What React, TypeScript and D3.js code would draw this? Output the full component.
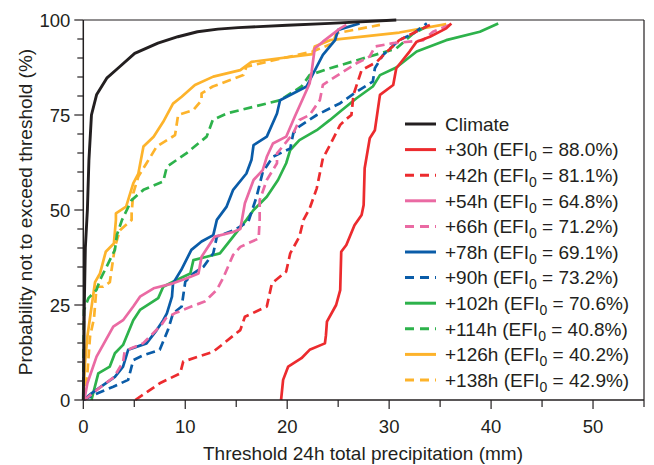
import React from "react";
import * as d3 from "d3";

type Pt = [number, number];

const xTicksMajor = [0, 10, 20, 30, 40, 50];
const xTicksMinor = [5, 15, 25, 35, 45, 55];
const yTicksMajor = [0, 25, 50, 75, 100];
const yTicksMinor = [5, 10, 15, 20, 30, 35, 40, 45, 55, 60, 65, 70, 80, 85, 90, 95];

const climate: Pt[] = [[0,0],[0.05,10],[0.1,25],[0.2,40],[0.4,50],[0.55,63],[0.8,75],[1.3,80.3],[2.3,84.7],[3.4,87.3],[5.04,91.2],[7.32,93.9],[9.28,95.6],[11.2,96.9],[13.2,97.6],[15.2,98],[20,98.6],[24.2,99.1],[30.7,100]];
const h30: Pt[] = [[19.4,0],[19.6,5.3],[20.1,8.8],[21.4,11],[22.2,13.2],[23.7,14.9],[23.8,17],[23.9,20.6],[24.8,25],[25.2,28.9],[25.3,39],[25.8,40.8],[26.6,46],[27.3,48.7],[27.5,51.3],[27.6,61],[28.1,68.9],[28.6,71],[29.1,80.3],[30.4,82.9],[30.7,87.3],[32,91.7],[32.7,94.3],[34,95.6],[35.6,97.8],[36.1,99.1]];
const h42: Pt[] = [[5.1,0],[7.5,4.4],[9.5,7],[9.8,10.1],[12.75,12.7],[15.4,18.4],[15.85,21.9],[18,24.6],[18.5,30.7],[19.9,33.8],[20.3,38.6],[21.2,43],[21.6,47.4],[22.2,50.4],[22.9,55.7],[23.5,63.6],[24.2,67.1],[25.2,72.4],[25.7,73.7],[26.3,75],[26.5,80.3],[27.3,86.8],[28.8,89],[29.3,90.4],[31,94.7],[33.3,97.8],[34,98.7]];
const h54: Pt[] = [[0.1,0],[0.4,4.4],[1.3,11.4],[2.94,19.3],[3.9,21],[4.9,24.6],[5.56,27.2],[6.9,29.4],[8.8,30.7],[10.1,32],[11.3,33.3],[11.6,37.7],[12.9,43],[14.7,44.2],[15.4,45],[15.85,51.8],[16.7,57.9],[17.6,60.5],[18,64],[18.6,67.5],[19.9,69.3],[20.75,74.6],[21.4,78.5],[22.2,83.3],[22.4,86.4],[22.7,92.5],[23.5,94.3],[25.2,97.8],[25.8,98.7]];
const h66: Pt[] = [[0.1,0],[1.5,3],[3,6],[3.9,10],[4.05,12.7],[4.7,13.6],[5.85,14.9],[7.65,19.7],[8.1,21.5],[8.96,22.8],[10.6,24.6],[11.9,25.9],[13.1,29],[13.7,32],[14.7,38.2],[15.4,40.3],[17.2,42.5],[17.3,47.4],[17.3,52.6],[18,57.9],[19,62.3],[19,64.9],[20.6,70.2],[21.2,73.7],[22.2,75],[23.2,78.9],[23.5,82.9],[25.2,85.9],[26.8,88.6],[28.1,90.4],[28.6,93],[30.4,93.9],[33.3,94.6],[34.3,96.9],[35.9,98.7]];
const h78: Pt[] = [[0,0],[0.8,1.75],[3.1,6.1],[3.9,8.8],[4.4,13.2],[6.2,14.9],[7.2,18.4],[7.84,21],[8.2,22.8],[8.7,27.2],[8.8,30.7],[9.6,34.2],[10.6,39.5],[11.6,41.7],[12.75,43.4],[13.1,47.4],[14.06,50.9],[14.7,55.3],[16,59.6],[16.5,63.2],[16.7,67.1],[18,69.3],[19,75.4],[19.3,78.9],[21.9,82.5],[22.9,87.7],[23.5,90.8],[24.7,94.7],[25,97.4],[27.1,99.1]];
const h90: Pt[] = [[0,0],[0.98,1.3],[2.94,3.5],[4.4,5.3],[4.9,10.5],[5.9,11.8],[7.5,13.2],[8.3,18.4],[8.8,22.8],[9.65,24.6],[10,31.1],[10.8,33.3],[11.8,35.1],[12.75,38.6],[13.1,43],[14.8,44.7],[16.2,47],[17,53.5],[17.6,60],[18.6,64],[20.3,66.2],[20.6,70.2],[21.2,72],[22.9,75],[25.2,78.1],[26.8,81.1],[28.4,83.8],[28.6,87.3],[29.4,90.8],[31,94.7],[32.4,96.5],[33.7,99.1]];
const h102: Pt[] = [[0.8,0],[1.47,7],[2.6,8.8],[3.1,12.3],[3.9,14.5],[4.9,21],[5.56,23.7],[7.35,26.8],[7.84,29.8],[8.8,31.1],[10.5,33.3],[10.8,36.8],[12.1,37.7],[13.4,38.6],[14.7,43],[16,47.4],[16.7,50],[18,53.5],[19.1,57.9],[19.9,62.3],[20.3,65.8],[21.2,68.4],[22.9,71],[24.2,73.7],[25.2,75.9],[26.8,79.4],[28.4,82.5],[29.1,85.5],[30.7,87.5],[32.7,91.7],[35.6,94.7],[38.9,96.9],[40.7,99.1]];
const h114: Pt[] = [[0,0],[0.02,12],[0.07,23.7],[0.5,26.8],[1.3,29],[1.64,31.6],[3.1,39.5],[3.3,43.5],[3.8,47.4],[4.74,52.6],[5.9,55.3],[7.84,57.5],[8.2,61.4],[10.1,64.9],[12.1,69.3],[12.7,73.7],[14.06,75.4],[19.3,78.9],[21.4,82.5],[22.2,85.5],[24.2,87.3],[28.1,90.4],[30.7,92.5],[32.4,96.5],[34,98.7]];
const h126: Pt[] = [[0,0],[0.16,9.6],[0.4,16.7],[1.15,31],[1.64,33.3],[2.2,39],[3.0,41.2],[3.2,47.4],[3.2,49.1],[4.2,50.9],[4.9,57],[5.4,59.6],[5.9,66.7],[6.9,69.3],[7.84,73.2],[8.8,78],[9.65,79.8],[10.95,82.9],[12.75,85.1],[15.4,86.8],[16.5,89],[22.5,91],[22.7,93],[24.2,94.7],[31,96.7],[35.6,98.9]];
const h138: Pt[] = [[0,0],[0.4,7],[0.66,16.7],[1.05,21.5],[1.3,29.8],[1.96,29.8],[2.6,31],[3.1,40.3],[3.6,44.7],[4.74,47.4],[4.74,49.1],[4.9,54.4],[5.4,58.8],[6.2,62.3],[7.2,66.7],[9,69.7],[9.3,75],[10.8,76.3],[11.6,78.9],[11.6,80.7],[12.7,82.5],[15.7,85.5],[16,87.7],[18,89],[22.5,91.7],[24.5,93.9],[24.8,96.5],[29.1,98.7]];

const leadLabels = ["+30h", "+42h", "+54h", "+66h", "+78h", "+90h", "+102h", "+114h", "+126h", "+138h"];
const efiValues = ["88.0%", "81.1%", "64.8%", "71.2%", "69.1%", "73.2%", "70.6%", "40.8%", "40.2%", "42.9%"];

const RED = "#ec2b2e";
const PINK = "#ea6aa3";
const BLUE = "#0a5ca8";
const GREEN = "#2db24b";
const YELLOW = "#fdb32b";
const BLACK = "#231f20";

const series = [
  { data: h30, color: RED, dashed: false },
  { data: h42, color: RED, dashed: true },
  { data: h54, color: PINK, dashed: false },
  { data: h66, color: PINK, dashed: true },
  { data: h78, color: BLUE, dashed: false },
  { data: h90, color: BLUE, dashed: true },
  { data: h102, color: GREEN, dashed: false },
  { data: h114, color: GREEN, dashed: true },
  { data: h126, color: YELLOW, dashed: false },
  { data: h138, color: YELLOW, dashed: true },
];

const W = 654, H = 465;
const L = 83.3, R = 644, T = 20, B = 400;
const FONT = "'Liberation Sans', Arial, Helvetica, sans-serif";

export default function App() {
  const x = d3.scaleLinear().domain([0, 55]).range([L, R]);
  const y = d3.scaleLinear().domain([0, 100]).range([B, T]);
  const line = d3.line<Pt>().x(d => x(d[0])).y(d => y(d[1]));
  const dash = "9 5";
  const legX0 = 405, legX1 = 436, legTx = 445, legY0 = 124, legDy = 25.6;

  const drawOrder = [9, 8, 7, 6, 5, 4, 3, 2, 1, 0];

  return (
    <svg width={W} height={H} style={{ position: "absolute", left: 0, top: 0, background: "#fff" }} fontFamily={FONT}>
      <rect x={0} y={0} width={W} height={H} fill="#fff" />
      {drawOrder.map(i => (
        <path key={i} d={line(series[i].data) || ""} fill="none" stroke={series[i].color}
          strokeWidth={2.7} strokeDasharray={series[i].dashed ? dash : undefined} strokeLinejoin="round" />
      ))}
      <path d={line(climate) || ""} fill="none" stroke={BLACK} strokeWidth={2.9} strokeLinejoin="round" />
      <line x1={L} x2={R} y1={T} y2={T} stroke={BLACK} strokeWidth={1.2} />
      <line x1={R} x2={R} y1={T} y2={B} stroke={BLACK} strokeWidth={1.2} />
      <line x1={L} x2={L} y1={T} y2={B} stroke={BLACK} strokeWidth={1.5} />
      <line x1={L} x2={R} y1={B} y2={B} stroke={BLACK} strokeWidth={1.5} />
      {yTicksMajor.map(t => (
        <g key={"ym" + t}>
          <line x1={L - 9} x2={L} y1={y(t)} y2={y(t)} stroke={BLACK} strokeWidth={1.2} />
          <text x={L - 13} y={y(t)} dy="0.36em" textAnchor="end" fontSize={18.5} fill={BLACK}>{t}</text>
        </g>
      ))}
      {yTicksMinor.map(t => (
        <line key={"yn" + t} x1={L - 6} x2={L} y1={y(t)} y2={y(t)} stroke={BLACK} strokeWidth={1.2} />
      ))}
      {xTicksMajor.map(t => (
        <g key={"xm" + t}>
          <line x1={x(t)} x2={x(t)} y1={B} y2={B + 9} stroke={BLACK} strokeWidth={1.2} />
          <text x={x(t)} y={433} textAnchor="middle" fontSize={18.5} fill={BLACK}>{t}</text>
        </g>
      ))}
      {xTicksMinor.map(t => (
        <line key={"xn" + t} x1={x(t)} x2={x(t)} y1={B} y2={B + 7} stroke={BLACK} strokeWidth={1.2} />
      ))}
      <text x={363} y={460} textAnchor="middle" fontSize={19} fill={BLACK}>Threshold 24h total precipitation (mm)</text>
      <text transform="translate(32,212) rotate(-90)" textAnchor="middle" fontSize={19} fill={BLACK}>Probability not to exceed threshold (%)</text>
      <line x1={legX0} x2={legX1} y1={legY0} y2={legY0} stroke={BLACK} strokeWidth={3} />
      <text x={legTx} y={legY0} dy="0.36em" fontSize={19} fill={BLACK}>Climate</text>
      {series.map((s, i) => {
        const yy = legY0 + legDy * (i + 1);
        return (
          <g key={"lg" + i}>
            <line x1={legX0} x2={legX1} y1={yy} y2={yy} stroke={s.color} strokeWidth={3}
              strokeDasharray={s.dashed ? "9 6" : undefined} />
            <text x={legTx} y={yy} dy="0.36em" fontSize={19} fill={BLACK}>
              {leadLabels[i] + " (EFI"}
              <tspan fontSize={14} dy={5}>0</tspan>
              <tspan dy={-5}>{" = " + efiValues[i] + ")"}</tspan>
            </text>
          </g>
        );
      })}
    </svg>
  );
}
